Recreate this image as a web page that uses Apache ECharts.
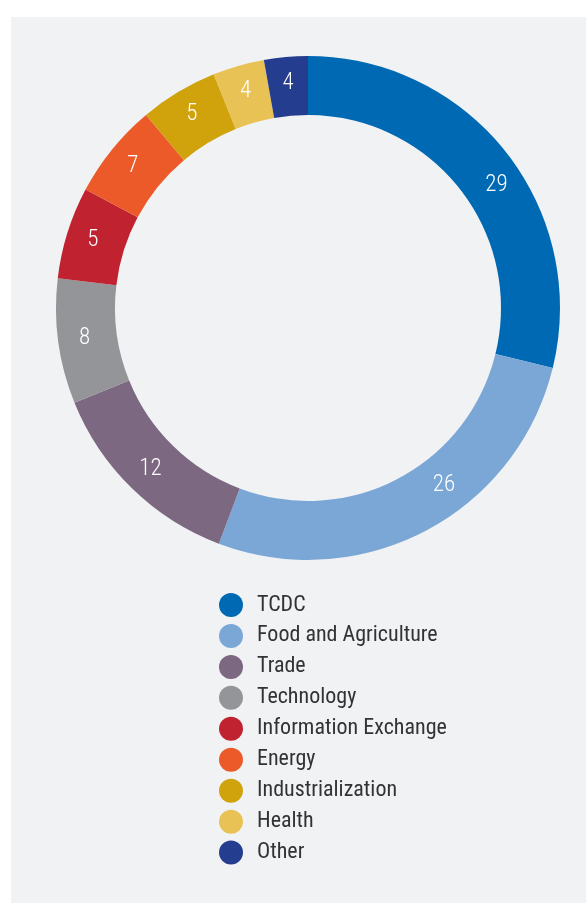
<!DOCTYPE html>
<html>
<head>
<meta charset="utf-8">
<script src="https://cdn.jsdelivr.net/npm/echarts@6/dist/echarts.min.js"></script>
<style>
  html, body { margin: 0; padding: 0; background: #ffffff; }
  #main { width: 586px; height: 907px; }
</style>
</head>
<body>
<div id="main"></div>
<script>
// categories clockwise from 12 o'clock
var names = ['TCDC', 'Food and Agriculture', 'Trade', 'Technology', 'Information Exchange',
             'Energy', 'Industrialization', 'Health', 'Other'];
// arc sizes
var values = [28.8, 26.9, 13.1, 8.0, 5.9, 6.1, 5.0, 3.3, 2.8];
// numbers printed on the ring
var labels = [29, 26, 12, 8, 5, 7, 5, 4, 4];
var colors = ['#0069b4', '#7ba7d7', '#7c6880', '#939598', '#c02230',
              '#ec5a29', '#d0a20c', '#e9c256', '#243d8f'];

var font = '"Roboto Condensed", "Liberation Sans Narrow", Roboto, sans-serif';

// the two big labels sit off the arc middle in the original
var labelShift = { 'TCDC': [11, 16], 'Food and Agriculture': [31, -22] };

var myChart = echarts.init(document.getElementById('main'));

var pieData = names.map(function (n, i) {
    var d = { name: n, value: values[i], shown: labels[i] };
    if (labelShift[n]) d.label = { offset: labelShift[n] };
    return d;
});

var option = {
    animation: false,
    color: colors,
    graphic: [{
        type: 'rect',
        z: -10,
        shape: { x: 11, y: 17, width: 586, height: 886 },
        style: { fill: '#f1f2f4' }
    }],
    legend: {
        orient: 'vertical',
        left: 214,
        top: 588,
        icon: 'circle',
        itemWidth: 24,
        itemHeight: 24,
        itemGap: 6.95,
        data: names,
        textStyle: {
            fontFamily: font,
            fontSize: 22,
            color: '#333333',
            padding: [0, 0, 0, 9]
        }
    },
    series: [{
        type: 'pie',
        center: [308, 308],
        radius: [193, 252],
        startAngle: 90,
        clockwise: true,
        avoidLabelOverlap: false,
        label: {
            show: true,
            position: 'inside',
            formatter: function (p) { return p.data.shown; },
            color: '#ffffff',
            fontFamily: font,
            fontWeight: 300,
            fontSize: 23
        },
        labelLine: { show: false },
        itemStyle: { borderWidth: 0 },
        emphasis: { disabled: true },
        data: pieData
    }]
};

myChart.setOption(option);
</script>
</body>
</html>
